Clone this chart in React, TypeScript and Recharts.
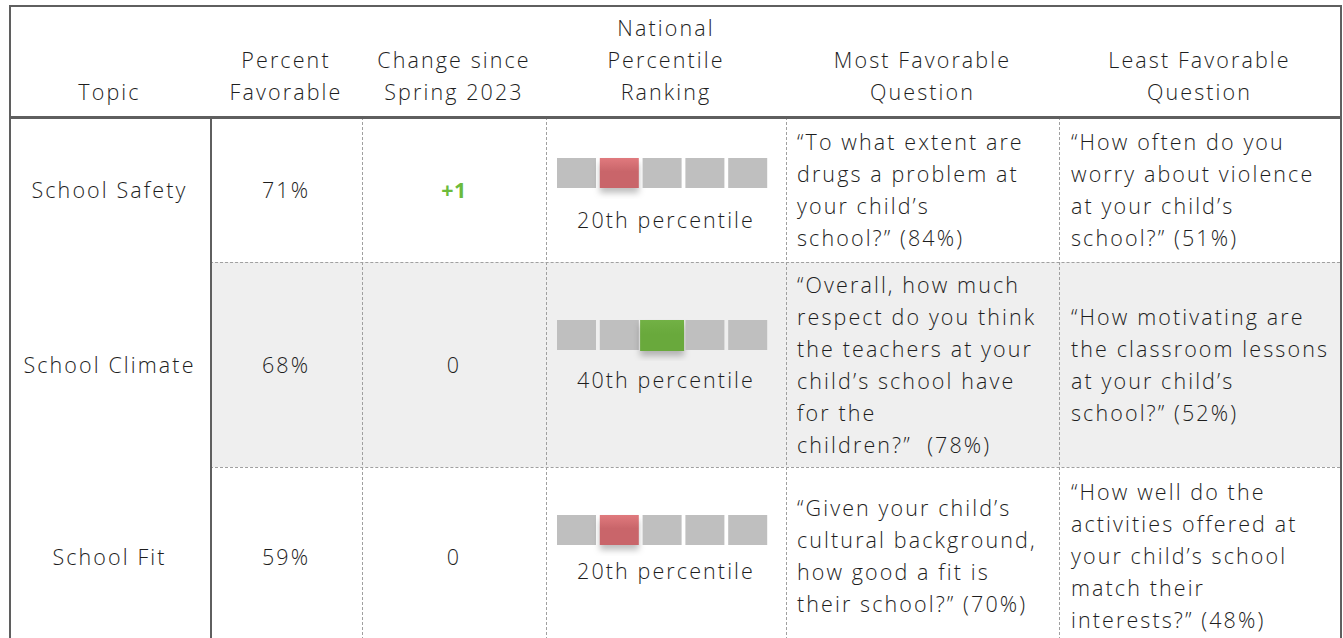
import React from 'react';
import { BarChart, Bar, XAxis, YAxis } from 'recharts';

// table content
const headerLabels = [
  ['Topic'],
  ['Percent', 'Favorable'],
  ['Change since', 'Spring 2023'],
  ['National', 'Percentile', 'Ranking'],
  ['Most Favorable', 'Question'],
  ['Least Favorable', 'Question'],
];
const topics = ['School Safety', 'School Climate', 'School Fit'];
const percentFavorable = [71, 68, 59];
const changeSinceSpring2023 = [1, 0, 0];
const nationalPercentile = [20, 40, 20];
const percentileBands = [0, 20, 40, 60, 80];
const bandColors = ['#c9656a', '#c9656a', '#69a93c', '#69a93c', '#69a93c'];
const mostFavorableQuestions = [
  ['\u201cTo what extent are', 'drugs a problem at', 'your child\u2019s', 'school?\u201d (84%)'],
  ['\u201cOverall, how much', 'respect do you think', 'the teachers at your', 'child\u2019s school have', 'for the', 'children?\u201d  (78%)'],
  ['\u201cGiven your child\u2019s', 'cultural background,', 'how good a fit is', 'their school?\u201d (70%)'],
];
const leastFavorableQuestions = [
  ['\u201cHow often do you', 'worry about violence', 'at your child\u2019s', 'school?\u201d (51%)'],
  ['\u201cHow motivating are', 'the classroom lessons', 'at your child\u2019s', 'school?\u201d (52%)'],
  ['\u201cHow well do the', 'activities offered at', 'your child\u2019s school', 'match their', 'interests?\u201d (48%)'],
];

const FONT = '"Open Sans", "DejaVu Sans", sans-serif';
const TEXT = '#1e1e1e';
const COL_X = [9, 210, 362, 546, 786, 1059, 1340];
const ROW_Y = [117, 262, 467, 645];
const HEADER_TOP = 5;
const LINE_H = 32;
// where the ranking widget sits in each row (layout only)
const BOX_TOP = [158, 320, 515];
const LABEL_MID = [220, 380, 571];

function PercentileBoxes({ rank, row }: { rank: number; row: number }) {
  const data = percentileBands.map((band) => ({ band, filled: 1 }));
  const gradId = `hl-${row}`;
  const hl = bandColors[percentileBands.indexOf(rank)];
  const isGreen = hl === '#69a93c';
  return (
    <BarChart
      width={214}
      height={42}
      data={data}
      margin={{ top: 1, right: 0, bottom: 11, left: 0 }}
      barCategoryGap={2}
    >
      <defs>
        <linearGradient id={gradId} x1="0" y1="0" x2="0" y2="1">
          <stop offset="0%" stopColor={isGreen ? '#72b145' : '#e07a7e'} />
          <stop offset="45%" stopColor={hl} />
          <stop offset="100%" stopColor={hl} />
        </linearGradient>
      </defs>
      <XAxis dataKey="band" hide />
      <YAxis hide domain={[0, 1]} />
      <Bar
        dataKey="filled"
        isAnimationActive={false}
        shape={(p: any) => {
          if (p.payload.band !== rank) {
            return <rect x={p.x} y={p.y} width={p.width} height={p.height} fill="#bfbfbf" />;
          }
          const grow = isGreen ? 2.5 : 0;
          return (
            <rect
              x={p.x - grow}
              y={p.y}
              width={p.width + grow * 2}
              height={p.height + (isGreen ? 1 : 0)}
              fill={`url(#${gradId})`}
              style={{ filter: 'drop-shadow(0px 5px 3px rgba(0,0,0,0.25))' }}
            />
          );
        }}
      />
    </BarChart>
  );
}

const Lines = ({ lines, align = 'center' }: { lines: string[]; align?: 'left' | 'center' }) => (
  <div style={{ textAlign: align }}>
    {lines.map((l, i) => (
      <div key={i} style={{ height: LINE_H, lineHeight: `${LINE_H}px`, whiteSpace: 'pre' }}>
        {l}
      </div>
    ))}
  </div>
);

export default function App() {
  const cell = (c: number, top: number, bottom: number, extra: React.CSSProperties = {}): React.CSSProperties => ({
    position: 'absolute',
    left: COL_X[c],
    width: COL_X[c + 1] - COL_X[c],
    top,
    height: bottom - top,
    display: 'flex',
    alignItems: 'center',
    justifyContent: 'center',
    boxSizing: 'border-box',
    ...extra,
  });

  const solid = '#5f5f5f';
  const dashed = '1px dashed #a0a0a0';

  return (
    <div
      style={{
        position: 'absolute',
        left: 0,
        top: 0,
        width: 1343,
        height: 638,
        overflow: 'hidden',
        background: '#fff',
        fontFamily: FONT,
        fontWeight: 300,
        fontSize: 21.5,
        letterSpacing: 2.1,
        color: TEXT,
      }}
    >
      {/* shaded middle row */}
      <div
        style={{
          position: 'absolute',
          left: COL_X[1],
          width: COL_X[6] - COL_X[1],
          top: ROW_Y[1],
          height: ROW_Y[2] - ROW_Y[1],
          background: '#efefef',
        }}
      />

      {/* dashed grid */}
      {[2, 3, 4, 5].map((c) => (
        <div
          key={`v${c}`}
          style={{ position: 'absolute', left: COL_X[c], top: ROW_Y[0], height: 640 - ROW_Y[0], borderLeft: dashed }}
        />
      ))}
      {[1, 2].map((r) => (
        <div
          key={`h${r}`}
          style={{ position: 'absolute', left: COL_X[1], width: COL_X[6] - COL_X[1], top: ROW_Y[r], borderTop: dashed }}
        />
      ))}

      {/* solid frame */}
      <div style={{ position: 'absolute', left: COL_X[0], top: HEADER_TOP, width: COL_X[6] - COL_X[0], height: 2, background: solid }} />
      <div style={{ position: 'absolute', left: COL_X[0], top: HEADER_TOP, width: 2, height: 640, background: solid }} />
      <div style={{ position: 'absolute', left: COL_X[6], top: HEADER_TOP, width: 2, height: 640, background: solid }} />
      <div style={{ position: 'absolute', left: COL_X[0], top: ROW_Y[0] - 1, width: COL_X[6] - COL_X[0] + 2, height: 3, background: solid }} />
      <div style={{ position: 'absolute', left: COL_X[1], top: ROW_Y[0], width: 2, height: 640, background: solid }} />

      {/* header */}
      {headerLabels.map((lines, c) => (
        <div key={`hd${c}`} style={cell(c, HEADER_TOP, ROW_Y[0], { alignItems: 'flex-end', paddingBottom: 9 })}>
          <Lines lines={lines} />
        </div>
      ))}

      {/* body rows */}
      {topics.map((topic, r) => {
        const top = ROW_Y[r];
        const bottom = ROW_Y[r + 1];
        const change = changeSinceSpring2023[r];
        return (
          <React.Fragment key={topic}>
            <div style={cell(0, top, bottom)}>{topic}</div>
            <div style={cell(1, top, bottom)}>{`${percentFavorable[r]}%`}</div>
            <div
              style={cell(2, top, bottom, {
                color: change > 0 ? '#6cbb3c' : TEXT,
                fontWeight: change > 0 ? 700 : 300,
                letterSpacing: change > 0 ? 0.5 : 2.1,
              })}
            >
              {change > 0 ? `+${change}` : `${change}`}
            </div>
            <div style={{ position: 'absolute', left: 555, top: BOX_TOP[r] - 1 }}>
              <PercentileBoxes rank={nationalPercentile[r]} row={r} />
            </div>
            <div
              style={{
                position: 'absolute',
                left: COL_X[3],
                width: COL_X[4] - COL_X[3],
                top: LABEL_MID[r] - LINE_H / 2,
                height: LINE_H,
                lineHeight: `${LINE_H}px`,
                textAlign: 'center',
              }}
            >
              {`${nationalPercentile[r]}th percentile`}
            </div>
            <div style={cell(4, top, bottom, { justifyContent: 'flex-start', paddingLeft: 11 })}>
              <Lines lines={mostFavorableQuestions[r]} align="left" />
            </div>
            <div style={cell(5, top, bottom, { justifyContent: 'flex-start', paddingLeft: 12 })}>
              <Lines lines={leastFavorableQuestions[r]} align="left" />
            </div>
          </React.Fragment>
        );
      })}
    </div>
  );
}
